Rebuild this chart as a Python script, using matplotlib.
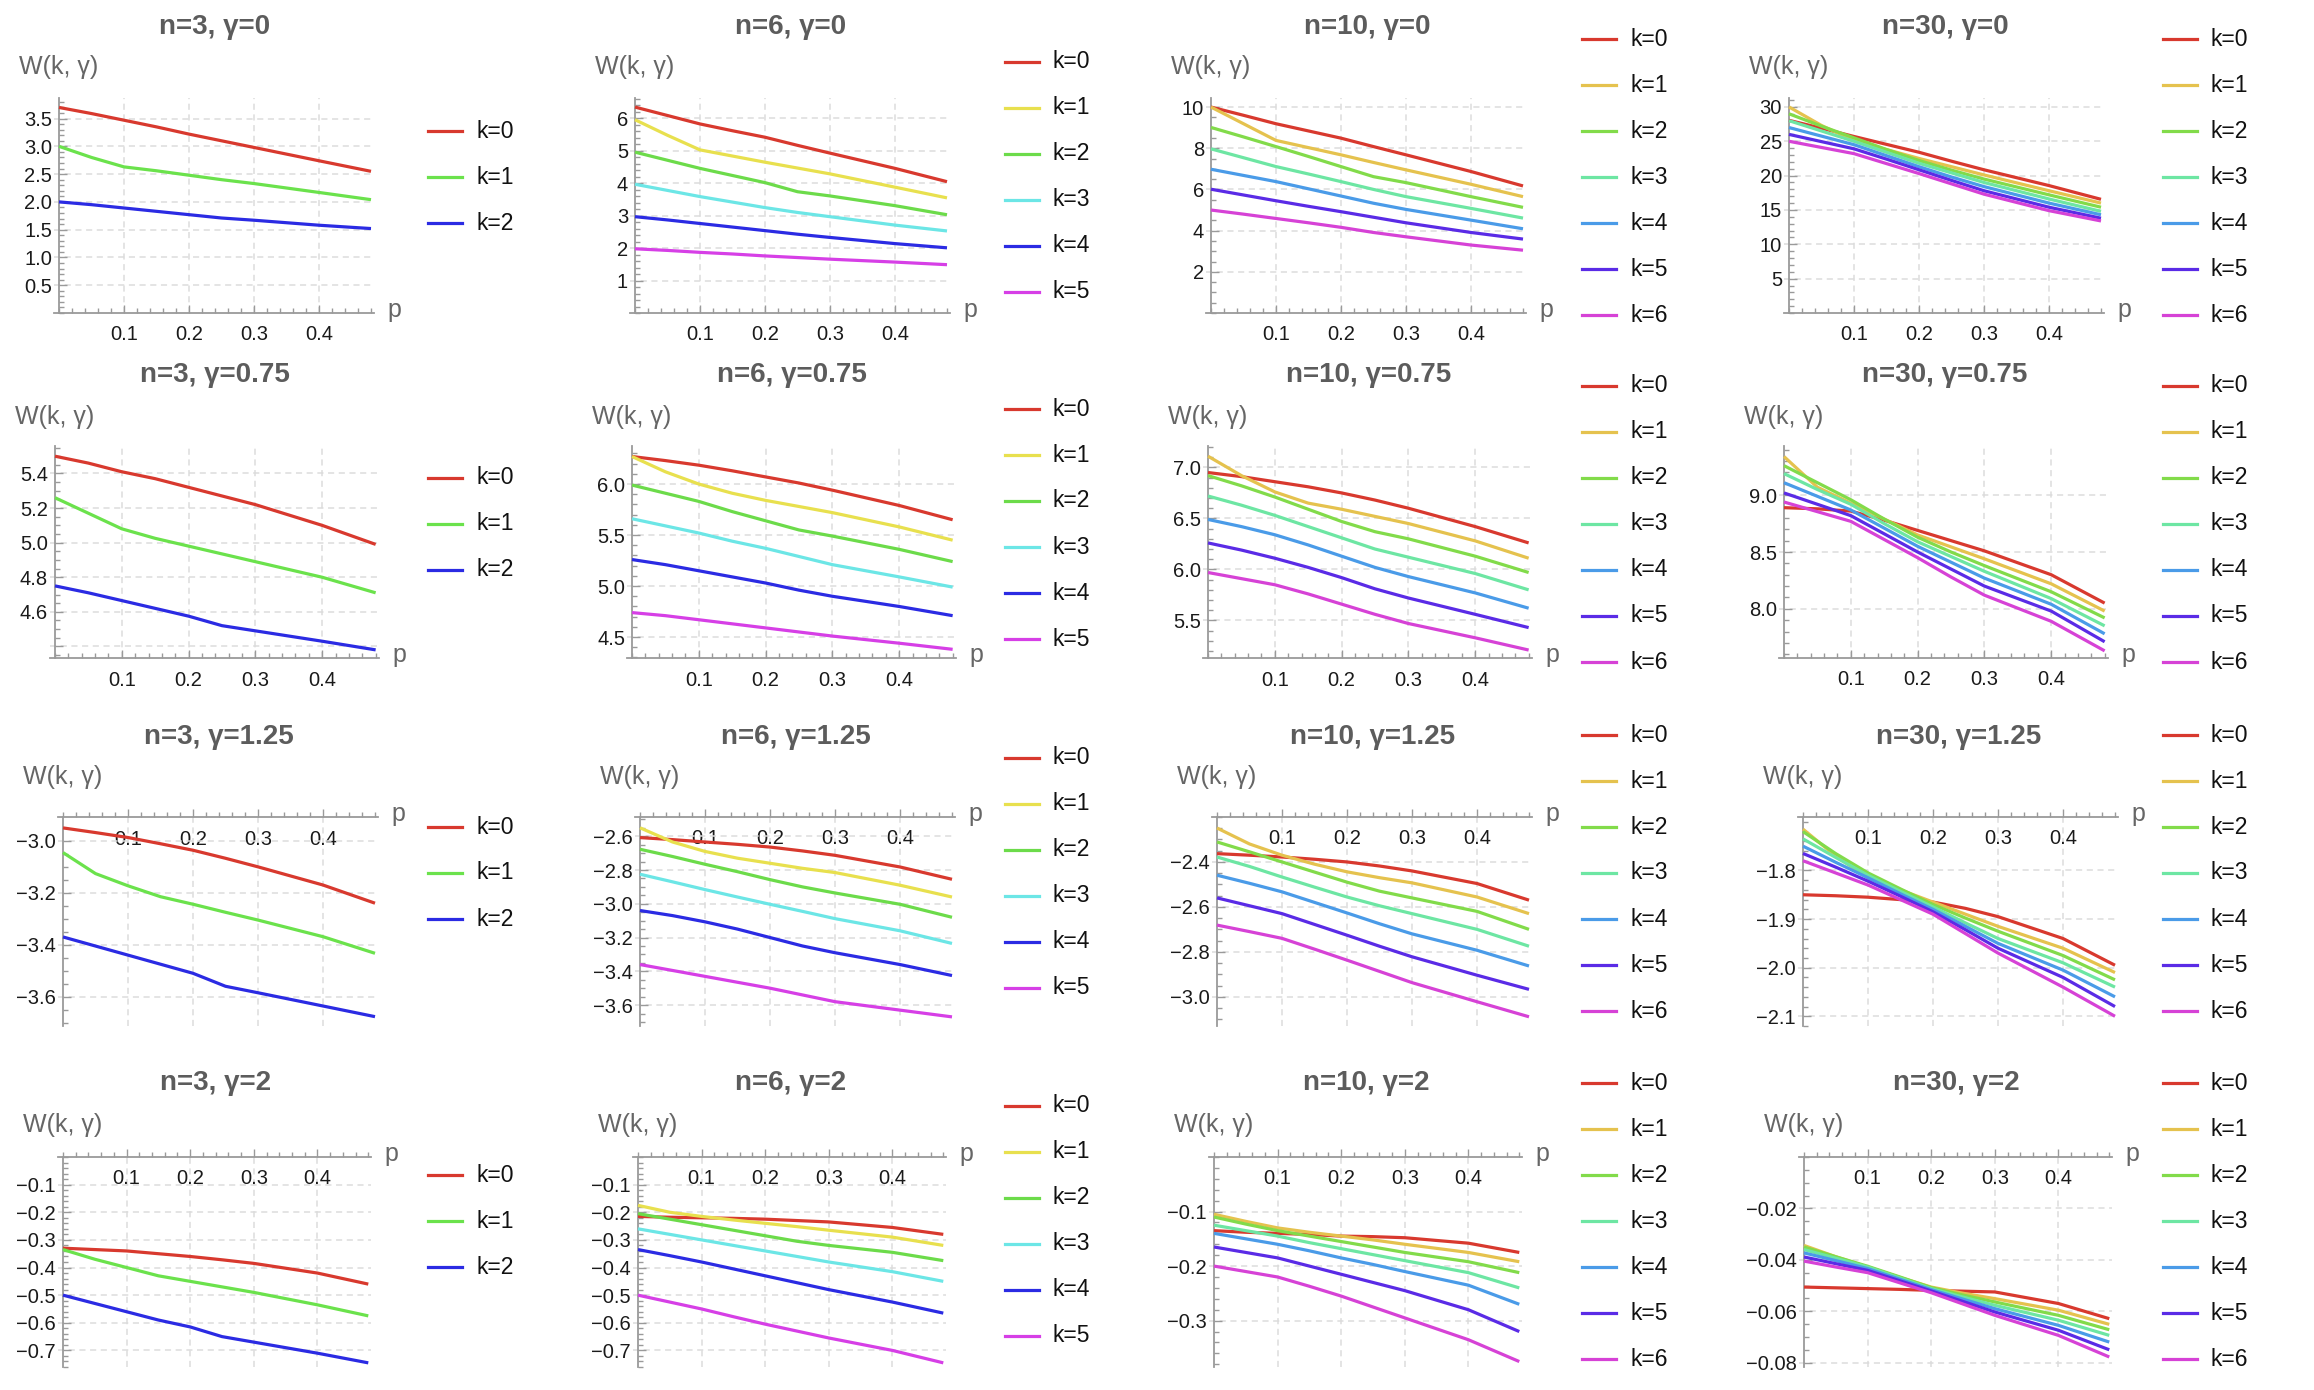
import matplotlib.pyplot as plt
from matplotlib.lines import Line2D
from matplotlib.ticker import FixedLocator, AutoMinorLocator, NullFormatter

plt.rcParams['font.family'] = ['Liberation Sans', 'DejaVu Sans']

# ---------------- data ----------------
p = [0.0, 0.05, 0.1, 0.15, 0.2, 0.25, 0.3, 0.4, 0.48]
n_values = [3, 6, 10, 30]
gamma_labels = ['0', '0.75', '1.25', '2']
x_ticks = [0.1, 0.2, 0.3, 0.4]

# n=3
w_n3_g0 = [
    [3.70, 3.59, 3.47, 3.35, 3.22, 3.10, 2.98, 2.74, 2.55],
    [3.00, 2.80, 2.63, 2.56, 2.48, 2.40, 2.33, 2.17, 2.04],
    [2.00, 1.95, 1.89, 1.83, 1.77, 1.71, 1.67, 1.58, 1.52],
]
w_n3_g075 = [
    [5.50, 5.46, 5.41, 5.37, 5.32, 5.27, 5.22, 5.10, 4.99],
    [5.26, 5.17, 5.08, 5.025, 4.98, 4.935, 4.89, 4.80, 4.71],
    [4.75, 4.71, 4.665, 4.62, 4.575, 4.52, 4.49, 4.43, 4.38],
]
w_n3_g125 = [
    [-2.95, -2.968, -2.987, -3.011, -3.036, -3.067, -3.10, -3.17, -3.24],
    [-3.045, -3.126, -3.173, -3.215, -3.244, -3.275, -3.305, -3.369, -3.433],
    [-3.37, -3.405, -3.44, -3.475, -3.51, -3.56, -3.585, -3.636, -3.677],
]
w_n3_g2 = [
    [-0.33, -0.335, -0.34, -0.35, -0.36, -0.372, -0.385, -0.42, -0.46],
    [-0.335, -0.37, -0.40, -0.43, -0.45, -0.47, -0.49, -0.535, -0.575],
    [-0.50, -0.53, -0.56, -0.59, -0.615, -0.65, -0.67, -0.71, -0.745],
]

# n=6
w_n6_g0 = [
    [6.35, 6.09, 5.83, 5.62, 5.42, 5.17, 4.93, 4.46, 4.05],
    [5.96, 5.48, 5.03, 4.84, 4.65, 4.47, 4.29, 3.88, 3.55],
    [4.96, 4.71, 4.46, 4.24, 4.02, 3.74, 3.61, 3.31, 3.03],
    [3.97, 3.78, 3.59, 3.42, 3.25, 3.10, 2.97, 2.71, 2.53],
    [2.97, 2.87, 2.76, 2.65, 2.54, 2.43, 2.33, 2.14, 2.01],
    [1.98, 1.93, 1.87, 1.82, 1.76, 1.71, 1.66, 1.57, 1.49],
]
w_n6_g075 = [
    [6.27, 6.23, 6.185, 6.13, 6.07, 6.01, 5.94, 5.79, 5.65],
    [6.27, 6.12, 6.00, 5.91, 5.84, 5.78, 5.72, 5.58, 5.45],
    [5.99, 5.91, 5.83, 5.73, 5.64, 5.55, 5.49, 5.36, 5.24],
    [5.66, 5.59, 5.52, 5.44, 5.37, 5.29, 5.21, 5.09, 4.99],
    [5.26, 5.21, 5.15, 5.09, 5.03, 4.96, 4.90, 4.80, 4.71],
    [4.74, 4.71, 4.67, 4.63, 4.59, 4.55, 4.51, 4.44, 4.38],
]
w_n6_g125 = [
    [-2.608, -2.62, -2.634, -2.648, -2.664, -2.687, -2.713, -2.782, -2.855],
    [-2.55, -2.634, -2.69, -2.73, -2.76, -2.79, -2.815, -2.89, -2.96],
    [-2.677, -2.72, -2.766, -2.81, -2.857, -2.90, -2.936, -3.003, -3.08],
    [-2.825, -2.87, -2.916, -2.96, -3.003, -3.045, -3.088, -3.16, -3.235],
    [-3.04, -3.07, -3.107, -3.15, -3.20, -3.25, -3.29, -3.36, -3.425],
    [-3.36, -3.395, -3.43, -3.465, -3.50, -3.54, -3.58, -3.63, -3.67],
]
w_n6_g2 = [
    [-0.215, -0.218, -0.22, -0.222, -0.225, -0.23, -0.235, -0.255, -0.28],
    [-0.175, -0.20, -0.215, -0.228, -0.24, -0.252, -0.265, -0.29, -0.32],
    [-0.205, -0.225, -0.245, -0.265, -0.285, -0.305, -0.32, -0.345, -0.375],
    [-0.26, -0.28, -0.30, -0.32, -0.34, -0.36, -0.38, -0.415, -0.45],
    [-0.335, -0.357, -0.38, -0.405, -0.43, -0.455, -0.48, -0.525, -0.565],
    [-0.50, -0.525, -0.55, -0.578, -0.605, -0.63, -0.655, -0.70, -0.745],
]

# n=10
w_n10_g0 = [
    [10.0, 9.60, 9.19, 8.84, 8.49, 8.08, 7.68, 6.87, 6.17],
    [10.0, 9.19, 8.38, 8.03, 7.68, 7.31, 6.95, 6.25, 5.65],
    [9.01, 8.55, 8.08, 7.60, 7.11, 6.62, 6.33, 5.65, 5.13],
    [7.97, 7.54, 7.11, 6.75, 6.38, 6.00, 5.65, 5.08, 4.61],
    [6.98, 6.68, 6.38, 6.03, 5.68, 5.33, 5.03, 4.51, 4.09],
    [6.01, 5.73, 5.45, 5.18, 4.92, 4.65, 4.38, 3.91, 3.59],
    [5.00, 4.80, 4.59, 4.38, 4.16, 3.91, 3.70, 3.30, 3.05],
]
w_n10_g075 = [
    [6.95, 6.91, 6.86, 6.81, 6.75, 6.68, 6.60, 6.42, 6.26],
    [7.11, 6.92, 6.76, 6.65, 6.59, 6.52, 6.45, 6.28, 6.11],
    [6.92, 6.82, 6.71, 6.59, 6.47, 6.37, 6.30, 6.13, 5.97],
    [6.72, 6.63, 6.53, 6.42, 6.31, 6.20, 6.12, 5.96, 5.80],
    [6.49, 6.42, 6.34, 6.24, 6.13, 6.02, 5.93, 5.77, 5.62],
    [6.26, 6.19, 6.11, 6.02, 5.92, 5.81, 5.72, 5.56, 5.43],
    [5.97, 5.91, 5.85, 5.76, 5.66, 5.56, 5.47, 5.33, 5.21],
]
w_n10_g125 = [
    [-2.363, -2.37, -2.378, -2.388, -2.40, -2.418, -2.44, -2.496, -2.57],
    [-2.249, -2.32, -2.37, -2.41, -2.444, -2.47, -2.493, -2.556, -2.63],
    [-2.311, -2.355, -2.40, -2.445, -2.49, -2.53, -2.56, -2.62, -2.70],
    [-2.378, -2.42, -2.467, -2.512, -2.556, -2.595, -2.63, -2.70, -2.775],
    [-2.459, -2.495, -2.533, -2.58, -2.627, -2.675, -2.72, -2.793, -2.863],
    [-2.56, -2.595, -2.63, -2.678, -2.726, -2.775, -2.822, -2.904, -2.967],
    [-2.681, -2.71, -2.74, -2.788, -2.837, -2.887, -2.937, -3.022, -3.089],
]
w_n10_g2 = [
    [-0.135, -0.138, -0.14, -0.142, -0.145, -0.146, -0.148, -0.158, -0.175],
    [-0.105, -0.118, -0.13, -0.138, -0.145, -0.152, -0.16, -0.175, -0.192],
    [-0.11, -0.123, -0.135, -0.145, -0.155, -0.165, -0.175, -0.192, -0.212],
    [-0.125, -0.135, -0.145, -0.157, -0.168, -0.179, -0.19, -0.212, -0.24],
    [-0.14, -0.15, -0.16, -0.172, -0.185, -0.197, -0.21, -0.235, -0.27],
    [-0.165, -0.175, -0.185, -0.20, -0.215, -0.23, -0.245, -0.28, -0.32],
    [-0.20, -0.21, -0.22, -0.237, -0.255, -0.275, -0.295, -0.335, -0.375],
]

# n=30
w_n30_g0 = [
    [28.05, 26.9, 25.7, 24.55, 23.4, 22.1, 20.85, 18.55, 16.55],
    [30.0, 27.3, 25.1, 23.8, 22.5, 21.3, 20.1, 17.8, 16.0],
    [29.0, 27.2, 25.5, 23.8, 22.2, 20.8, 19.5, 17.2, 15.4],
    [28.0, 26.5, 25.0, 23.4, 21.8, 20.4, 19.0, 16.6, 14.8],
    [27.0, 25.75, 24.5, 22.9, 21.3, 19.8, 18.4, 16.0, 14.3],
    [26.0, 24.95, 23.9, 22.4, 20.85, 19.3, 17.8, 15.4, 13.8],
    [25.0, 24.1, 23.2, 21.75, 20.3, 18.8, 17.3, 14.9, 13.4],
]
w_n30_g075 = [
    [8.89, 8.88, 8.86, 8.78, 8.69, 8.60, 8.51, 8.30, 8.05],
    [9.34, 9.07, 8.93, 8.79, 8.65, 8.545, 8.44, 8.22, 7.98],
    [9.26, 9.11, 8.96, 8.79, 8.63, 8.50, 8.38, 8.15, 7.92],
    [9.19, 9.05, 8.92, 8.75, 8.59, 8.46, 8.33, 8.09, 7.85],
    [9.11, 8.99, 8.87, 8.71, 8.55, 8.41, 8.27, 8.04, 7.78],
    [9.02, 8.92, 8.82, 8.66, 8.50, 8.35, 8.20, 7.98, 7.71],
    [8.94, 8.855, 8.77, 8.61, 8.45, 8.28, 8.12, 7.89, 7.63],
]
w_n30_g125 = [
    [-1.850, -1.852, -1.855, -1.86, -1.865, -1.878, -1.895, -1.94, -1.995],
    [-1.715, -1.77, -1.815, -1.84, -1.865, -1.89, -1.915, -1.96, -2.01],
    [-1.72, -1.765, -1.805, -1.838, -1.87, -1.898, -1.925, -1.975, -2.025],
    [-1.735, -1.773, -1.81, -1.843, -1.875, -1.908, -1.94, -1.99, -2.04],
    [-1.75, -1.783, -1.815, -1.848, -1.88, -1.915, -1.95, -2.005, -2.06],
    [-1.765, -1.793, -1.822, -1.853, -1.885, -1.922, -1.96, -2.02, -2.08],
    [-1.78, -1.805, -1.83, -1.86, -1.89, -1.93, -1.97, -2.04, -2.10],
]
w_n30_g2 = [
    [-0.0506, -0.0509, -0.0512, -0.0515, -0.0519, -0.0522, -0.0525, -0.0570, -0.0629],
    [-0.0344, -0.0388, -0.0428, -0.0468, -0.0506, -0.0530, -0.0551, -0.0596, -0.0651],
    [-0.0350, -0.0388, -0.0425, -0.0466, -0.0508, -0.0537, -0.0564, -0.0616, -0.0672],
    [-0.0360, -0.0394, -0.0428, -0.0470, -0.0512, -0.0545, -0.0577, -0.0635, -0.0694],
    [-0.0373, -0.0403, -0.0434, -0.0475, -0.0516, -0.0553, -0.0590, -0.0655, -0.0720],
    [-0.0389, -0.0415, -0.0441, -0.0481, -0.0521, -0.0562, -0.0603, -0.0674, -0.0750],
    [-0.0405, -0.0428, -0.0450, -0.0489, -0.0528, -0.0572, -0.0616, -0.0694, -0.0778],
]

panels = [
    [w_n3_g0, w_n6_g0, w_n10_g0, w_n30_g0],
    [w_n3_g075, w_n6_g075, w_n10_g075, w_n30_g075],
    [w_n3_g125, w_n6_g125, w_n10_g125, w_n30_g125],
    [w_n3_g2, w_n6_g2, w_n10_g2, w_n30_g2],
]

y_ticks = [
    [[0.5, 1.0, 1.5, 2.0, 2.5, 3.0, 3.5], [1, 2, 3, 4, 5, 6],
     [2, 4, 6, 8, 10], [5, 10, 15, 20, 25, 30]],
    [[4.4, 4.6, 4.8, 5.0, 5.2, 5.4], [4.5, 5.0, 5.5, 6.0],
     [5.5, 6.0, 6.5, 7.0], [8.0, 8.5, 9.0]],
    [[-3.6, -3.4, -3.2, -3.0], [-3.6, -3.4, -3.2, -3.0, -2.8, -2.6],
     [-3.0, -2.8, -2.6, -2.4], [-2.1, -2.0, -1.9, -1.8]],
    [[-0.7, -0.6, -0.5, -0.4, -0.3, -0.2, -0.1], [-0.7, -0.6, -0.5, -0.4, -0.3, -0.2, -0.1],
     [-0.3, -0.2, -0.1], [-0.08, -0.06, -0.04, -0.02]],
]
y_fmt = [
    ['{:.1f}', '{:.0f}', '{:.0f}', '{:.0f}'],
    ['{:.1f}', '{:.1f}', '{:.1f}', '{:.1f}'],
    ['{:.1f}', '{:.1f}', '{:.1f}', '{:.1f}'],
    ['{:.1f}', '{:.1f}', '{:.1f}', '{:.2f}'],
]
y_lims = [
    [(0, 3.87), (0, 6.63), (0, 10.44), (0, 31.3)],
    [(4.333, 5.559), (4.295, 6.373), (5.132, 7.21), (7.567, 9.433)],
    [(-3.713, -2.908), (-3.724, -2.486), (-3.13, -2.2), (-2.12, -1.69)],
    [(-0.76, 0), (-0.76, 0), (-0.385, 0), (-0.0817, 0)],
]

colors3 = ['#d8392e', '#6be24c', '#2b2be3']
colors6 = ['#d8392e', '#e8e04e', '#6cdb4a', '#6ce6e6', '#2b2be3', '#d63fe6']
colors7 = ['#d8392e', '#e5c24e', '#82db4a', '#6de6a3', '#4a9be8', '#5a2be6', '#d642d6']
col_colors = [colors3, colors6, colors7, colors7]

# ---------------- layout (pixels of the 2314x1390 picture) ----------------
W_PX, H_PX = 2314, 1390
row_top = [98, 446, 817, 1157]
row_bot = [313, 658, 1026, 1367]
axis_x = [[59, 635, 1211, 1789],
          [55, 632, 1208, 1784],
          [63, 640, 1217, 1803],
          [63, 638, 1214, 1804]]
row_scale = [650, 668, 650, 636]
title_y = [27, 375, 737, 1083]
wlabel_off = [31, 29, 40, 32]
legend_x = [428, 1005, 1582, 2163]
legend_cy = [177, 524, 873, 1221]
legend_dy = 46

title_color = '#5c5c5c'
label_color = '#666666'
axis_color = '#9a9a9a'
grid_color = '#dcdcdc'


def fx(x):
    return x / W_PX


def fy(y):
    return 1 - y / H_PX


fig = plt.figure(figsize=(W_PX / 100, H_PX / 100), dpi=100)

x_lo, x_hi = -0.008, 0.485

for r in range(4):
    for c in range(4):
        s = row_scale[r]
        x0 = axis_x[r][c]
        left = x0 + x_lo * s
        width = (x_hi - x_lo) * s
        top, bot = row_top[r], row_bot[r]
        ax = fig.add_axes([fx(left), fy(bot), width / W_PX, (bot - top) / H_PX])
        ax.patch.set_alpha(0)

        series = panels[r][c]
        cols = col_colors[c]
        for k, wk in enumerate(series):
            ax.plot(p, wk, color=cols[k], lw=2.3, solid_joinstyle='round',
                    solid_capstyle='butt', zorder=3)

        lo, hi = y_lims[r][c]
        ax.set_xlim(x_lo, x_hi)
        ax.set_ylim(lo, hi)
        axis_y = lo if r < 2 else hi

        for side in ['top', 'right']:
            ax.spines[side].set_visible(False)
        ax.spines['left'].set_position(('data', 0))
        ax.spines['bottom'].set_position(('data', axis_y))
        for side in ['left', 'bottom']:
            ax.spines[side].set_color(axis_color)
            ax.spines[side].set_linewidth(1.3)

        ax.xaxis.set_major_locator(FixedLocator(x_ticks))
        ax.set_xticklabels(['{:.1f}'.format(t) for t in x_ticks])
        ax.xaxis.set_minor_locator(FixedLocator([i * 0.02 for i in range(25)]))
        ax.xaxis.set_minor_formatter(NullFormatter())

        yt = y_ticks[r][c]
        ax.yaxis.set_major_locator(FixedLocator(yt))
        labels = [y_fmt[r][c].format(t).replace('-', '\u2212') for t in yt]
        if r == 1 and c == 0:
            labels[0] = ''
        ax.set_yticklabels(labels)
        ax.yaxis.set_minor_locator(AutoMinorLocator())

        ax.tick_params(which='both', direction='in', color=axis_color, width=1.0)
        ax.tick_params(which='major', length=6)
        ax.tick_params(which='minor', length=3.5)
        ax.tick_params(axis='x', which='major', labelsize=14.5, pad=9, labelcolor='#1a1a1a')
        ax.tick_params(axis='y', which='major', labelsize=14.5, pad=5, labelcolor='#1a1a1a')

        ax.grid(True, which='major', color=grid_color, linestyle=(0, (4, 3)), lw=1.1, zorder=0)
        ax.set_axisbelow(True)

        # title, axis labels
        end_x = x0 + x_hi * s
        fig.text(fx((x0 + x0 + 0.48 * s) / 2), fy(title_y[r]),
                 'n={}, \u03b3={}'.format(n_values[c], gamma_labels[r]),
                 ha='center', va='center', fontsize=20, fontweight='bold',
                 color=title_color)
        fig.text(fx(x0), fy(top - wlabel_off[r]), 'W(k, \u03b3)',
                 ha='center', va='center', fontsize=18, color=label_color)
        y_axis_px = bot if r < 2 else top
        fig.text(fx(end_x + 13), fy(y_axis_px - 3), 'p',
                 ha='left', va='center', fontsize=18, color=label_color)

        # legend
        nk = len(series)
        y_first = legend_cy[r] - (nk - 1) * legend_dy / 2
        for k in range(nk):
            yy = y_first + k * legend_dy
            fig.add_artist(Line2D([fx(legend_x[c]), fx(legend_x[c] + 34)], [fy(yy), fy(yy)],
                                  transform=fig.transFigure, color=cols[k], lw=2.3))
            fig.text(fx(legend_x[c] + 48), fy(yy), 'k={}'.format(k),
                     ha='left', va='center', fontsize=16.5, color='#111111')

fig.savefig('out.png', dpi=100)
